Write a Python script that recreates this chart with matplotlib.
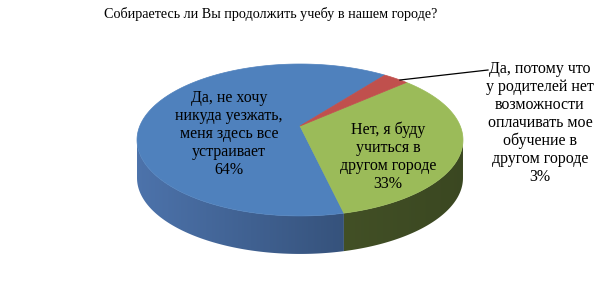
import numpy as np
import matplotlib
matplotlib.use("Agg")
import matplotlib.pyplot as plt
from matplotlib.patches import Polygon

# ---- data ----
title = "Собираетесь ли Вы продолжить учебу в нашем городе?"
categories = ["Да, не хочу\nникуда уезжать,\nменя здесь все\nустраивает",
              "Нет, я буду\nучиться в\nдругом городе",
              "Да, потому что\nу родителей нет\nвозможности\nоплачивать мое\nобучение в\nдругом городе"]
values = [64, 33, 3]
top_colors = ["#4f81bd", "#9bbb59", "#c0504d"]
side_colors_left = [(0.30, 0.45, 0.67), (0.31, 0.37, 0.18), (0.50, 0.20, 0.19)]
side_colors_right = [(0.16, 0.25, 0.38), (0.23, 0.28, 0.13), (0.40, 0.16, 0.15)]

plt.rcParams['font.family'] = ['Liberation Serif', 'DejaVu Serif']

W, H = 601, 289
fig = plt.figure(figsize=(W / 100, H / 100), dpi=100)
ax = fig.add_axes([0, 0, 1, 1])
ax.set_xlim(0, W)
ax.set_ylim(H, 0)
ax.axis('off')

# geometry (pixel space, perspective disk)
cx, cy = 300.0, 126.0
p = 0.184
A, B = 160.2, 73.4
depth = 38.0
start = 37.4  # clockwise angle from far point


def proj(theta):
    t = np.radians(theta)
    u, v = np.sin(t), np.cos(t)
    w = 1 + p * v
    return cx + A * u / w, cy - B * v / w


total = sum(values)
spans = [v / total * 360 for v in values]
ranges = []
end = start
for s in spans:
    ranges.append((end - s, end))
    end -= s

vis_lo = 90 + np.degrees(np.arcsin(p))
vis_hi = 270 - np.degrees(np.arcsin(p))
xmin, xmax = cx - A / np.sqrt(1 - p * p), cx + A / np.sqrt(1 - p * p)

# sides: gradient image clipped by the side polygon of each slice
for i, (a0, a1) in enumerate(ranges):
    for k in range(-1, 2):
        lo = max(a0 + 360 * k, vis_lo)
        hi = min(a1 + 360 * k, vis_hi)
        if hi <= lo:
            continue
        ts = np.linspace(lo, hi, int((hi - lo) * 2) + 2)
        topp = [proj(t) for t in ts]
        botp = [(x, y + depth) for x, y in topp[::-1]]
        poly = Polygon(topp + botp, closed=True, facecolor='none', edgecolor='none')
        ax.add_patch(poly)
        cl = np.array(side_colors_left[i]); cr = np.array(side_colors_right[i])
        f = np.linspace(0, 1, 256)
        grad = (cl[None, :] + (cr - cl)[None, :] * f[:, None])[None, :, :]
        im = ax.imshow(grad, extent=(xmin, xmax, 260, 60), aspect='auto',
                       interpolation='bilinear', zorder=1)
        im.set_clip_path(poly)
        # thin edge to avoid gaps
        ax.add_patch(Polygon(topp + botp, closed=True, facecolor='none',
                             edgecolor='none', zorder=1))

# tops
for i, (a0, a1) in enumerate(ranges):
    ts = np.linspace(a0, a1, max(int((a1 - a0) * 2), 4))
    pts = [(cx, cy)] + [proj(t) for t in ts]
    ax.add_patch(Polygon(pts, closed=True, facecolor=top_colors[i],
                         edgecolor=top_colors[i], lw=0.5, zorder=2))

ax.set_xlim(0, W)
ax.set_ylim(H, 0)

ax.text(271, 14, title, ha='center', va='center', fontsize=10.2, color='black')

label_pos = [(229, 134), (388, 157), (540, 123)]
for i, (lab, val) in enumerate(zip(categories, values)):
    x, y = label_pos[i]
    ax.text(x, y, f"{lab}\n{val}%", ha='center', va='center', fontsize=11.5,
            linespacing=1.17, color='black', zorder=3)

ax.plot([400, 488], [80, 70], color='black', lw=0.9, zorder=3)

fig.savefig("out.png", dpi=100)
